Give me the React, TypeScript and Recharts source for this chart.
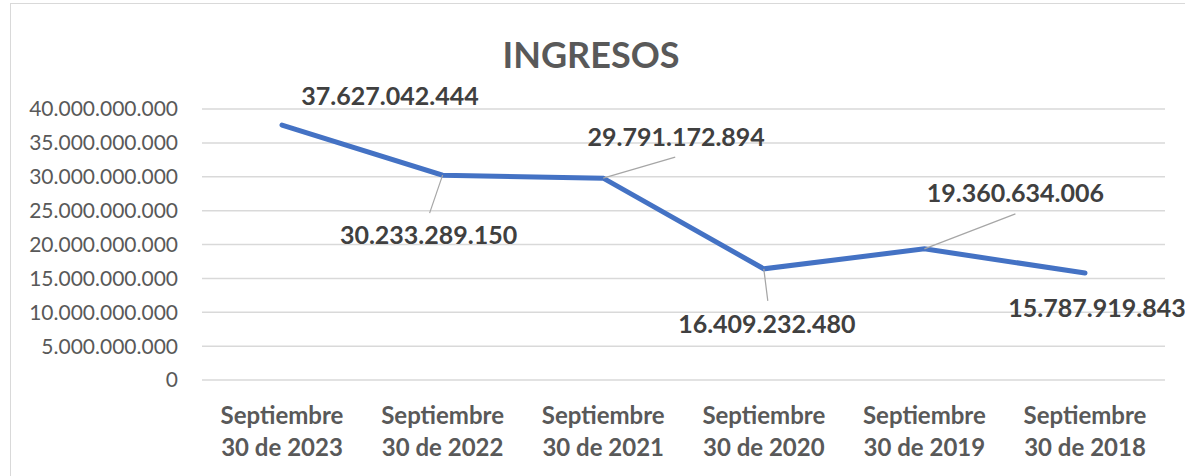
import React from "react";
import { LineChart, Line, XAxis, YAxis, CartesianGrid, LabelList } from "recharts";

const categories = [
  "Septiembre 30 de 2023",
  "Septiembre 30 de 2022",
  "Septiembre 30 de 2021",
  "Septiembre 30 de 2020",
  "Septiembre 30 de 2019",
  "Septiembre 30 de 2018",
];
const ingresos = [37627042444, 30233289150, 29791172894, 16409232480, 19360634006, 15787919843];
const yTicks = [0, 5000000000, 10000000000, 15000000000, 20000000000, 25000000000, 30000000000, 35000000000, 40000000000];
const title = "INGRESOS";

const data = categories.map((c, i) => ({ name: c, value: ingresos[i] }));

// label placement (dx, dy of label centre/baseline from the point; leader end offsets)
const labelOffsets = [
  { dx: 108, dy: -20, lead: null },
  { dx: -14, dy: 69, lead: [-13, 38] },
  { dx: 73, dy: -32, lead: [72, -21] },
  { dx: 3, dy: 64, lead: [4, 32] },
  { dx: 91, dy: -47, lead: [91, -35] },
  { dx: 12, dy: 44, lead: null },
];

const FONT = "Lato, 'Open Sans', sans-serif";

const fmt = (v: number) => {
  const s = Math.round(v).toString();
  return s.replace(/\B(?=(\d{3})+(?!\d))/g, ".");
};

const renderLabel = (props: any) => {
  const { x, y, value, index } = props;
  const o = labelOffsets[index];
  return (
    <g key={`lbl-${index}`}>
      {o.lead && (
        <line x1={x} y1={y} x2={x + o.lead[0]} y2={y + o.lead[1]} stroke="#A6A6A6" strokeWidth={1.2} />
      )}
      <text
        x={x + o.dx}
        y={y + o.dy}
        textAnchor="middle"
        fontFamily={FONT}
        fontWeight={700}
        fontSize={25}
        fill="#404040"
      >
        {fmt(value)}
      </text>
    </g>
  );
};

const XTick = (props: any) => {
  const { x, y, payload } = props;
  const s: string = payload.value;
  const idx = s.indexOf(" ");
  const l1 = s.slice(0, idx);
  const l2 = s.slice(idx + 1);
  return (
    <g>
      <text x={x} y={y + 44} textAnchor="middle" fontFamily={FONT} fontWeight={700} fontSize={24} fill="#595959">
        {l1}
      </text>
      <text x={x} y={y + 76} textAnchor="middle" fontFamily={FONT} fontWeight={700} fontSize={24} fill="#595959">
        {l2}
      </text>
    </g>
  );
};

export default function App() {
  return (
    <div
      style={{
        position: "absolute",
        left: 0,
        top: 0,
        width: 1185,
        height: 476,
        overflow: "hidden",
        background: "#ffffff",
      }}
    >
      <div
        style={{
          position: "absolute",
          left: 10,
          top: 3,
          width: 1400,
          height: 700,
          border: "1px solid #D9D9D9",
        }}
      />
      <div
        style={{
          position: "absolute",
          left: 0,
          top: 0,
          width: 1185,
          textAlign: "center",
        }}
      >
        <svg width={1185} height={80} style={{ position: "absolute", left: 0, top: 0 }}>
          <text x={591} y={68} textAnchor="middle" fontFamily={FONT} fontWeight={700} fontSize={36} fill="#595959">
            {title}
          </text>
        </svg>
      </div>
      <div style={{ position: "absolute", left: 0, top: 0 }}>
        <LineChart width={1185} height={476} data={data} margin={{ top: 109, right: 20, bottom: 0, left: 0 }}>
          <CartesianGrid horizontal vertical={false} stroke="#D9D9D9" strokeWidth={1.5} />
          <XAxis
            dataKey="name"
            axisLine={false}
            tickLine={false}
            tickSize={0}
            tickMargin={0}
            height={96}
            interval={0}
            padding={{ left: 80, right: 80 }}
            tick={<XTick />}
          />
          <YAxis
            width={202}
            domain={[0, 40000000000]}
            ticks={yTicks}
            axisLine={false}
            tickLine={false}
            tickSize={0}
            tickMargin={24}
            tickFormatter={(v: number) => fmt(v)}
            tick={{ fontFamily: FONT, fontSize: 21, fill: "#595959" }}
          />
          <Line
            type="linear"
            dataKey="value"
            stroke="#4472C4"
            strokeWidth={5}
            dot={false}
            isAnimationActive={false}
            strokeLinecap="round"
          >
            <LabelList dataKey="value" content={renderLabel} />
          </Line>
        </LineChart>
      </div>
    </div>
  );
}
